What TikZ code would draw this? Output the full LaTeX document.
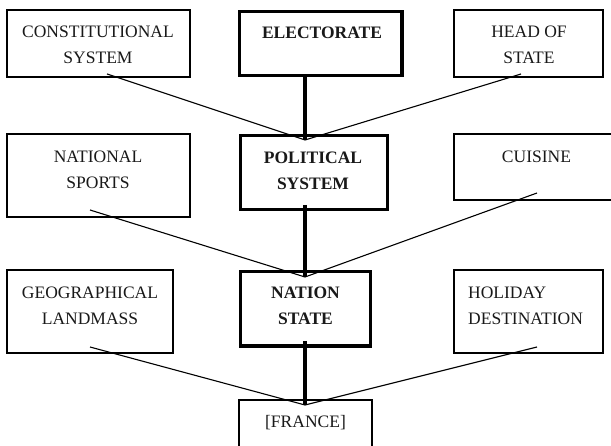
\documentclass[tikz,border=0pt]{standalone}
\usepackage{fontspec}
\setmainfont{Liberation Serif}
\begin{document}
\begin{tikzpicture}[x=1pt,y=-1pt,
  thinbox/.style={draw=black,line width=1.2pt,rectangle,inner sep=0pt},
  thickbox/.style={draw=black,line width=3.4pt,rectangle,inner sep=0pt},
  lbl/.style={font=\fontsize{17.5}{25.7}\selectfont,align=center,inner sep=0pt,text=black!90},
  blbl/.style={lbl,font=\fontsize{17.5}{25.7}\selectfont\bfseries},
  thinline/.style={line width=1.1pt,draw=black},
  thickline/.style={line width=4.6pt,draw=black}]
\useasboundingbox (0,0) rectangle (611,446);
\clip (0,0) rectangle (611,446);
\fill[white] (0,0) rectangle (611,446);
% boxes
\node[thinbox,minimum width=183pt,minimum height=67pt] (cs) at (98.5,43.5) {};
\node[thickbox,minimum width=162.7pt,minimum height=63.6pt] (el) at (320.6,43.5) {};
\node[thinbox,minimum width=149pt,minimum height=67pt] (hs) at (528.5,43.5) {};
\node[thinbox,minimum width=183pt,minimum height=83pt] (ns) at (98.5,175.5) {};
\node[thickbox,minimum width=147pt,minimum height=74pt] (ps) at (313.8,172.3) {};
\node[thinbox,minimum width=166pt,minimum height=66pt] (cu) at (537,167) {};
\node[thinbox,minimum width=166pt,minimum height=83pt] (gl) at (90,311.5) {};
\node[thickbox,minimum width=130.4pt,minimum height=74.7pt] (nst) at (305.5,308.7) {};
\node[thinbox,minimum width=149pt,minimum height=83pt] (hd) at (528.5,311.5) {};
\node[thinbox,minimum width=133pt,minimum height=70pt] (fr) at (305.5,435) {};
% texts
\node[lbl] (cst) at (98,45) {CONSTITUTIONAL\\SYSTEM};
\node[blbl,anchor=base] (elt) at (322,38.7) {ELECTORATE};
\node[lbl] (hst) at (529,45) {HEAD OF\\STATE};
\node[lbl] (nstx) at (98,169.5) {NATIONAL\\SPORTS};
\node[blbl] (pst) at (313,170.5) {POLITICAL\\SYSTEM};
\node[lbl,anchor=base] (cut) at (536.5,162.7) {CUISINE};
\node[lbl] (glt) at (90,305.5) {GEOGRAPHICAL\\LANDMASS};
\node[blbl] (nsttx) at (305.5,306) {NATION\\STATE};
\node[lbl,align=left,anchor=west] (hdt) at (468,305.5) {HOLIDAY\\DESTINATION};
\node[lbl,anchor=base] (frt) at (305.5,427.7) {[FRANCE]};
% connection points
\coordinate (c1) at (305,140);
\coordinate (c2) at (305,277);
\coordinate (c3) at (305,405);
\coordinate (csout) at (107,74);
\coordinate (hsout) at (521,74);
\coordinate (nsout) at (90,210);
\coordinate (cuout) at (537,193);
\coordinate (glout) at (90,347);
\coordinate (hdout) at (537,347);
\coordinate (elout) at (305,76);
\coordinate (psout) at (305,205);
\coordinate (nstout) at (305,341);
% connectors
\draw[thinline] (csout) -- (c1);
\draw[thinline] (hsout) -- (c1);
\draw[thinline] (nsout) -- (c2);
\draw[thinline] (cuout) -- (c2);
\draw[thinline] (glout) -- (c3);
\draw[thinline] (hdout) -- (c3);
\draw[thickline] (elout) -- (c1);
\draw[thickline] (psout) -- (c2);
\draw[thickline] (nstout) -- (c3);
\end{tikzpicture}
\end{document}
